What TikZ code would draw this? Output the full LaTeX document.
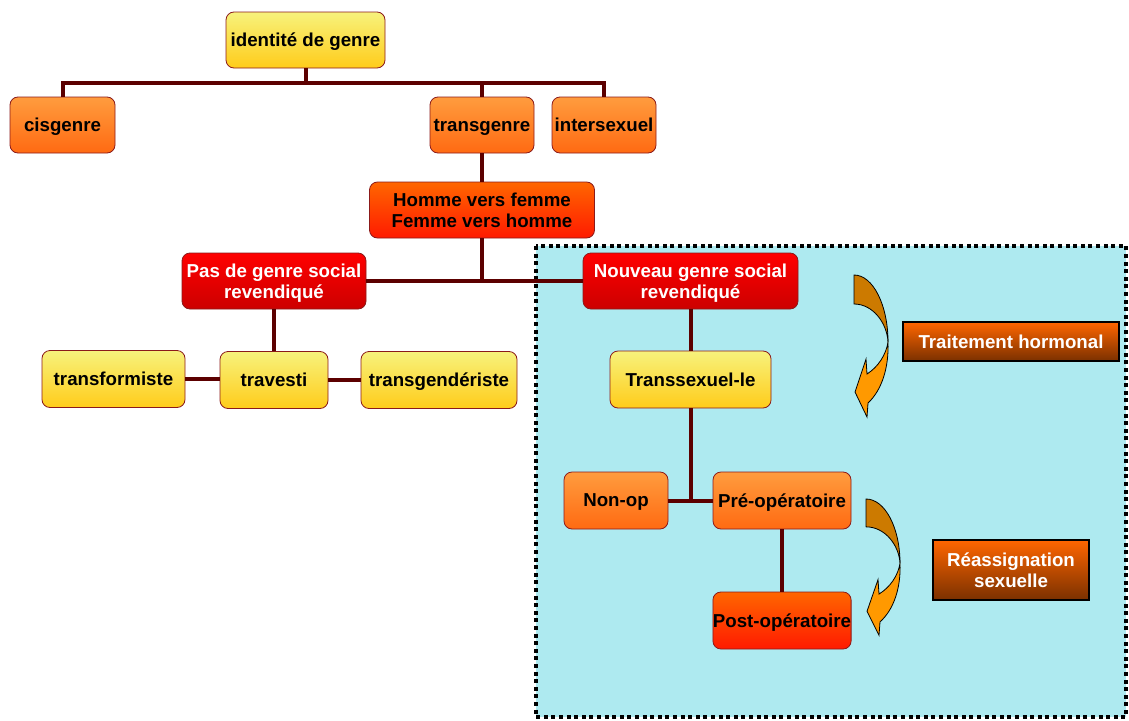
\documentclass[tikz,border=0pt]{standalone}
\usepackage{fontspec}
\setmainfont{Liberation Sans}
\definecolor{yelTop}{HTML}{F7F27C}
\definecolor{yelBot}{HTML}{FFCC1A}
\definecolor{orTop}{HTML}{FF9C3E}
\definecolor{orBot}{HTML}{FF6A12}
\definecolor{hvTop}{HTML}{FF6600}
\definecolor{hvBot}{HTML}{FF1A00}
\definecolor{rdTop}{HTML}{FF0000}
\definecolor{rdBot}{HTML}{CC0000}
\definecolor{brTop}{HTML}{FF6600}
\definecolor{brBot}{HTML}{7A3000}
\definecolor{boxBorder}{HTML}{8B1A1A}
\definecolor{connCol}{HTML}{5C0000}
\definecolor{frameFill}{HTML}{AEEAF0}
\definecolor{arrLight}{HTML}{FF9900}
\definecolor{arrDark}{HTML}{CC7A00}
\begin{document}
\begin{tikzpicture}[x=1pt,y=-1pt,
  box/.style={draw=boxBorder, line width=0.8pt, rounded corners=8pt, inner sep=0pt,
    text depth=0pt, align=center, font=\bfseries\fontsize{18.7}{21.5}\selectfont, text=black},
  yelbox/.style={box, top color=yelTop, bottom color=yelBot},
  orbox/.style={box, top color=orTop, bottom color=orBot},
  hvbox/.style={box, top color=hvTop, bottom color=hvBot},
  redbox/.style={box, top color=rdTop, bottom color=rdBot, text=white},
  brbox/.style={draw=black, line width=1.6pt, inner sep=0pt, text depth=0pt, align=center,
    top color=brTop, bottom color=brBot, text=white,
    font=\bfseries\fontsize{18.7}{21.5}\selectfont},
  conn/.style={draw=connCol, line width=4pt},
  frame/.style={draw=black, fill=frameFill, line width=4pt, dash pattern=on 4pt off 3.6pt},
  carrow/.pic={
    \filldraw[fill=arrLight, draw=black, line width=0.8pt]
      (34,67) .. controls (35,92) and (28,115) .. (14,128) -- (13,142) -- (1,117) -- (12,84)
      -- (13,99) .. controls (24,92) and (32,80) .. (34,67) -- cycle;
    \filldraw[fill=arrDark, draw=black, line width=0.8pt]
      (0,0) .. controls (19,0) and (34,30) .. (34,67)
      .. controls (33,48) and (19,29) .. (0,29) -- cycle;
  }
]
\useasboundingbox (0,0) rectangle (1129,720);
% frame
\draw[frame] (536,246) rectangle (1126,717);

% nodes
\node[yelbox, minimum width=159pt, minimum height=56pt] (idg) at (305.5,40) {identité de genre};
\node[orbox, minimum width=105pt, minimum height=56pt] (cis) at (62.5,125) {cisgenre};
\node[orbox, minimum width=104pt, minimum height=56pt] (trans) at (482,125) {transgenre};
\node[orbox, minimum width=104pt, minimum height=56pt] (inter) at (604,125) {intersexuel};
\node[hvbox, minimum width=225pt, minimum height=56pt] (hvf) at (482,210) {Homme vers femme\\Femme vers homme};
\node[redbox, minimum width=184pt, minimum height=56pt] (pas) at (274,281) {Pas de genre social\\revendiqué};
\node[redbox, minimum width=215pt, minimum height=56pt] (nouv) at (690.5,281) {Nouveau genre social\\revendiqué};
\node[yelbox, minimum width=143pt, minimum height=57pt] (tform) at (113.5,379) {transformiste};
\node[yelbox, minimum width=108pt, minimum height=57pt] (trav) at (274,380) {travesti};
\node[yelbox, minimum width=156pt, minimum height=57pt] (tgend) at (439,380) {transgendériste};
\node[yelbox, minimum width=161pt, minimum height=57pt] (tsex) at (690.5,379.5) {Transsexuel-le};
\node[orbox, minimum width=104pt, minimum height=57pt] (nonop) at (616,500.5) {Non-op};
\node[orbox, minimum width=138pt, minimum height=57pt] (preop) at (782,500.5) {Pré-opératoire};
\node[hvbox, minimum width=138pt, minimum height=57pt] (postop) at (782,620.5) {Post-opératoire};
\node[brbox, minimum width=216pt, minimum height=39pt] (trait) at (1011,341.5) {Traitement hormonal};
\node[brbox, minimum width=156pt, minimum height=60pt] (reass) at (1011,570) {Réassignation\\sexuelle};

% connectors
\draw[conn] (idg.south) -- ++(0,15) coordinate (j1);
\draw[conn] (cis.north) |- (j1) -| (inter.north);
\draw[conn] (trans.north) -- (trans.north |- j1);
\draw[conn] (trans.south) -- (hvf.north);
\draw[conn] (hvf.south) -- (hvf.south |- nouv.west);
\draw[conn] (pas.east) -- (nouv.west);
\draw[conn] (pas.south) -- (trav.north);
\draw[conn] (tform.east) -- (tform.east -| trav.west);
\draw[conn] (trav.east) -- (trav.east -| tgend.west);
\draw[conn] (nouv.south) -- (tsex.north);
\draw[conn] (tsex.south) -- (tsex.south |- nonop.east);
\draw[conn] (nonop.east) -- (preop.west);
\draw[conn] (preop.south) -- (postop.north);

% arrows
\pic at (854,275) {carrow};
\pic[yscale=0.96] at (866,499) {carrow};
\end{tikzpicture}
\end{document}
